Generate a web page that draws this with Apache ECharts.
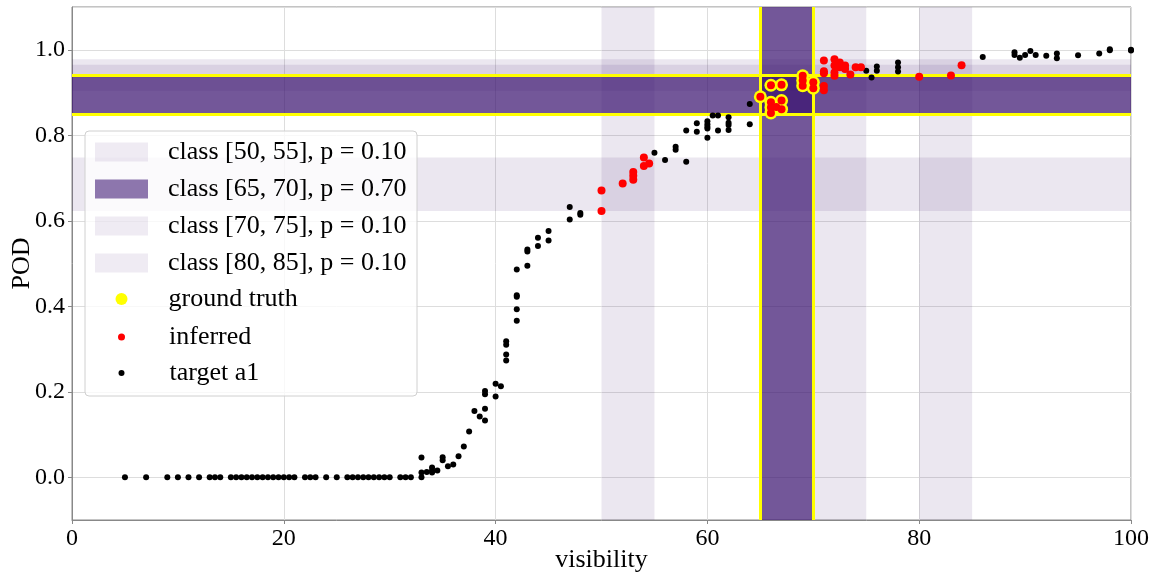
<!DOCTYPE html>
<html><head><meta charset="utf-8">
<script src="https://cdn.jsdelivr.net/npm/echarts@6/dist/echarts.min.js"></script>
<style>html,body{margin:0;padding:0;background:#fff}#c{width:1157px;height:578px}</style>
</head><body><div id="c"></div>
<script>
// ---- data ----
const classNames = ['class [50, 55], p = 0.10', 'class [65, 70], p = 0.70', 'class [70, 75], p = 0.10', 'class [80, 85], p = 0.10'];
const classLo = [50, 65, 70, 80];
const classHi = [55, 70, 75, 85];
const classProb = [0.10, 0.70, 0.10, 0.10];
const bandLow = [0.623, 0.850, 0.904, 0.935];
const bandHigh = [0.748, 0.941, 0.978, 0.965];
const truthX = [65, 70];
const truthY = [0.850, 0.941];

const targetX = [5,7,9,10,11,12,13,13.5,14,15,15.5,16,16.5,17,17.5,18,18.5,19,19.5,20,20.5,21,22,22.5,23,24,25,26,26.5,27,27.5,28,28.5,29,29.5,30,31,31.5,32,33,
  33,33,33.5,34,34,34,34.5,35,35,35.5,36,36.5,37,37.5,38,38.5,39,39,39,39,40,40,40.5,41,41,41,41,42,42,42,42,42,43,43,43,44,44,45,45,47,47,48,48,
  55,56,57,57,58,58,59,59,60,60,60,60,60,60.5,61,61,62,62,62,62,64,64,75,75.5,76,76,78,78,78,86,89,89,89.5,90,90.5,91,92,93,93,95,97,98,98,100,100];
const targetY = [0,0,0,0,0,0,0,0,0,0,0,0,0,0,0,0,0,0,0,0,0,0,0,0,0,0,0,0,0,0,0,0,0,0,0,0,0,0,0,0,
  0.046,0.011,0.012,0.023,0.016,0.011,0.016,0.047,0.040,0.026,0.030,0.049,0.072,0.107,0.155,0.142,0.202,0.194,0.160,0.133,0.219,0.189,0.213,0.318,0.310,0.287,0.273,0.486,0.426,0.422,0.393,0.366,0.533,0.528,0.495,0.560,0.541,0.576,0.554,0.632,0.603,0.618,0.614,
  0.759,0.742,0.773,0.766,0.811,0.738,0.828,0.808,0.833,0.826,0.820,0.816,0.794,0.846,0.846,0.811,0.842,0.829,0.824,0.812,0.873,0.826,0.951,0.935,0.961,0.951,0.970,0.959,0.949,0.983,0.994,0.988,0.981,0.988,0.997,0.988,0.986,0.991,0.980,0.987,0.991,1.001,0.999,0.998,1.0];

const inferredX = [50,50,52,53,53,53,54,54,54.5,65,66,66,66,66,66.5,67,67,67,69,69,69,70,70,71,71,71,71,71,72,72,72,72,72.5,72.5,73,73,73.5,74,74.5,80,83,84];
const inferredY = [0.671,0.623,0.687,0.714,0.705,0.696,0.748,0.728,0.734,0.890,0.917,0.877,0.865,0.852,0.866,0.918,0.881,0.861,0.939,0.928,0.916,0.924,0.910,0.975,0.950,0.945,0.915,0.905,0.978,0.963,0.947,0.939,0.970,0.959,0.963,0.955,0.942,0.959,0.959,0.937,0.940,0.964];

const truthPtsX = [65,66,66,66,66,66.5,67,67,67,69,69,69,70,70];
const truthPtsY = [0.890,0.917,0.877,0.865,0.852,0.866,0.918,0.881,0.861,0.939,0.928,0.916,0.924,0.910];

const xTicks = [0, 20, 40, 60, 80, 100];

// ---- chart ----
const FONT = 'Liberation Serif';
const purple = a => 'rgba(55,15,110,' + a + ')';
const zip = (xs, ys) => xs.map((x, i) => [x, ys[i]]);

const series = [];
classNames.forEach((n, i) => {
  series.push({
    type: 'scatter', name: n, data: [], itemStyle: { color: purple(classProb[i]) },
    markArea: {
      silent: true, z: 1,
      itemStyle: { color: purple(classProb[i]) },
      emphasis: { disabled: true },
      data: [
        [{ xAxis: classLo[i] }, { xAxis: classHi[i] }],
        [{ yAxis: bandLow[i] }, { yAxis: bandHigh[i] }]
      ]
    }
  });
});
series.push({
  type: 'scatter', name: 'truthbox', data: [],
  markLine: {
    silent: true, z: 2, symbol: ['none', 'none'], label: { show: false },
    emphasis: { disabled: true },
    lineStyle: { color: '#ffff00', width: 3, type: 'solid' },
    data: [{ xAxis: truthX[0] }, { xAxis: truthX[1] }, { yAxis: truthY[0] }, { yAxis: truthY[1] }]
  }
});
series.push({ type: 'scatter', name: 'target a1', z: 3, symbolSize: 6, itemStyle: { color: '#000', opacity: 1 }, data: zip(targetX, targetY) });
series.push({ type: 'scatter', name: 'ground truth', z: 4, symbolSize: 13, itemStyle: { color: '#ffff00', opacity: 1 }, data: zip(truthPtsX, truthPtsY) });
series.push({ type: 'scatter', name: 'inferred', z: 5, symbolSize: 8, itemStyle: { color: '#ff0000', opacity: 1 }, data: zip(inferredX, inferredY) });

const legText = pad => ({ fontFamily: FONT, fontSize: 26, color: '#000', lineHeight: 22, padding: [0, 0, 0, pad] });
const legBase = { orient: 'vertical', padding: 0, selectedMode: false, z: 20 };

const option = {
  animation: false,
  backgroundColor: '#fff',
  textStyle: { fontFamily: FONT },
  grid: { left: 72, right: 26, top: 7, bottom: 58, show: true, borderColor: '#888', borderWidth: 1, outerBoundsMode: 'none', containLabel: false },
  xAxis: {
    type: 'value', min: xTicks[0], max: xTicks[xTicks.length - 1], interval: 20,
    name: 'visibility', nameLocation: 'middle', nameGap: 27, nameMoveOverlap: false,
    nameTextStyle: { fontFamily: FONT, fontSize: 26, color: '#000' },
    axisLine: { show: true, onZero: false, lineStyle: { color: '#888' } },
    axisTick: { show: true, length: 4, lineStyle: { color: '#888' } },
    axisLabel: { fontFamily: FONT, fontSize: 24, color: '#000', margin: 7 },
    splitLine: { show: true, lineStyle: { color: '#dddddd' } }
  },
  yAxis: {
    type: 'value', min: -0.1, max: 1.1, minInterval: 0.2, maxInterval: 0.2,
    name: 'POD', nameLocation: 'middle', nameGap: 37, nameMoveOverlap: false,
    nameTextStyle: { fontFamily: FONT, fontSize: 26, color: '#000' },
    axisLine: { show: true, onZero: false, lineStyle: { color: '#888' } },
    axisTick: { show: true, length: 4, lineStyle: { color: '#888' } },
    axisLabel: { fontFamily: FONT, fontSize: 24, color: '#000', margin: 7, showMinLabel: false, showMaxLabel: false,
      formatter: v => (Math.abs(v + 0.1) < 1e-6 || Math.abs(v - 1.1) < 1e-6) ? '' : v.toFixed(1) },
    splitLine: { show: true, lineStyle: { color: '#dddddd' } }
  },
  legend: [
    Object.assign({}, legBase, { left: 95, top: 139, itemWidth: 53, itemHeight: 19, itemGap: 11, icon: 'rect', textStyle: legText(15), data: classNames }),
    Object.assign({}, legBase, { left: 115.5, top: 286, itemWidth: 12, itemHeight: 12, icon: 'circle', textStyle: legText(36), data: ['ground truth'] }),
    Object.assign({}, legBase, { left: 118, top: 324, itemWidth: 7, itemHeight: 7, icon: 'circle', textStyle: legText(39), data: ['inferred'] }),
    Object.assign({}, legBase, { left: 118.5, top: 360, itemWidth: 6, itemHeight: 6, icon: 'circle', textStyle: legText(40), data: ['target a1'] })
  ],
  graphic: { elements: [{
    type: 'rect', z: 10, silent: true,
    shape: { x: 85, y: 131, width: 332, height: 265, r: 4 },
    style: { fill: 'rgba(255,255,255,0.8)', stroke: '#d0d0d0', lineWidth: 1 }
  }] },
  series: series
};
const chart = echarts.init(document.getElementById('c'), null, { renderer: 'canvas' });
chart.setOption(option);
</script></body></html>
